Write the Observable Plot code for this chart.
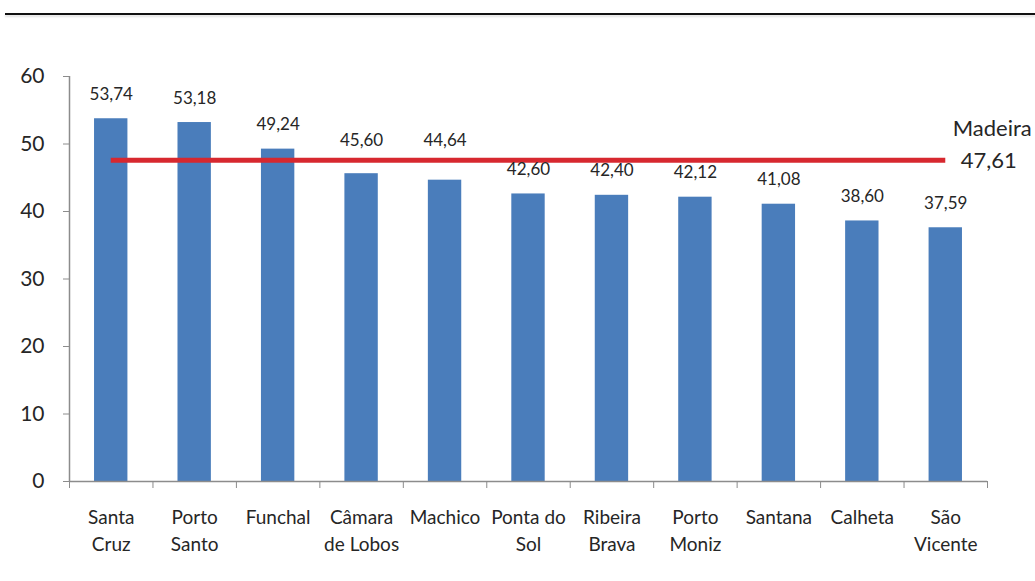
<!DOCTYPE html>
<html>
<head>
<meta charset="utf-8">
<script src="https://cdn.jsdelivr.net/npm/d3@7"></script>
<script src="https://cdn.jsdelivr.net/npm/@observablehq/plot@0.6"></script>
<style>
  html, body { margin: 0; padding: 0; background: #fff; }
  #wrap { position: relative; width: 1035px; height: 581px; overflow: hidden; }
  #topline { position: absolute; top: 13px; left: 5px; right: 0; height: 2px; background: #111; box-shadow: 0 2px 2px rgba(0,0,0,0.12); }
  svg { overflow: visible; }
</style>
</head>
<body>
<div id="wrap"><div id="topline"></div><div id="chart"></div></div>
<script>
const categories = ["Santa\nCruz", "Porto\nSanto", "Funchal", "Câmara\nde Lobos", "Machico", "Ponta do\nSol", "Ribeira\nBrava", "Porto\nMoniz", "Santana", "Calheta", "São\nVicente"];
const values = [53.74, 53.18, 49.24, 45.60, 44.64, 42.60, 42.40, 42.12, 41.08, 38.60, 37.59];
const averageLabel = "Madeira";
const averageValue = 47.61;
const yTicks = [0, 10, 20, 30, 40, 50, 60];

const data = categories.map((c, i) => ({i, name: c, value: values[i]}));
const fmt = v => v.toFixed(2).replace(".", ",");
const font = "Lato, 'Open Sans', sans-serif";
const ink = "#262626";
const axisGray = "#8c8c8c";

// Labels of bars just below the average line would collide with it: lift them above it
const lifted = d => d.value < averageValue && d.value > averageValue - 4;
const labelY = d => lifted(d) ? averageValue : d.value;

const chart = Plot.plot({
  width: 1035,
  height: 581,
  marginLeft: 69,
  marginRight: 48,
  marginTop: 76,
  marginBottom: 100,
  style: {fontFamily: font, color: ink, background: "transparent"},
  x: {domain: [0, categories.length], axis: null},
  y: {domain: [0, 60], axis: null},
  marks: [
    Plot.rectY(data, {x1: d => d.i + 0.3, x2: d => d.i + 0.7, y1: 0, y2: "value", fill: "#4a7dbb"}),
    Plot.ruleX([0], {y1: 0, y2: 60, stroke: axisGray, strokeWidth: 1.5}),
    Plot.ruleY([0], {x1: 0, x2: categories.length, stroke: axisGray, strokeWidth: 1.5}),
    Plot.axisY({ticks: yTicks, label: null, tickSize: 6, tickPadding: 19, fontSize: 21, stroke: axisGray, fill: ink}),
    Plot.axisX({ticks: d3.range(categories.length + 1), label: null, tickSize: 7, tickFormat: () => "", stroke: axisGray}),
    Plot.text(data, {x: d => d.i + 0.5, y: 0, text: "name", lineAnchor: "top", dy: 23, fontSize: 19, lineHeight: 1.42, fill: ink}),
    Plot.ruleY([averageValue], {x1: 0.5, x2: categories.length - 0.5, stroke: "#d7282f", strokeWidth: 5}),
    Plot.text(data.filter(d => !lifted(d)), {x: d => d.i + 0.5, y: labelY, text: d => fmt(d.value), lineAnchor: "bottom", dy: -19, fontSize: 17, fill: ink}),
    Plot.text(data.filter(lifted), {x: d => d.i + 0.5, y: labelY, text: d => fmt(d.value), lineAnchor: "bottom", dy: -14, fontSize: 17, fill: ink}),
    Plot.text([averageValue], {x: categories.length - 0.5, y: d => d, text: () => averageLabel, textAnchor: "start", dx: 7, dy: -31, fontSize: 22, fill: ink}),
    Plot.text([averageValue], {x: categories.length - 0.5, y: d => d, text: d => fmt(d), textAnchor: "start", dx: 15, dy: 1, fontSize: 22, fill: ink})
  ]
});
document.getElementById("chart").appendChild(chart);
</script>
</body>
</html>
